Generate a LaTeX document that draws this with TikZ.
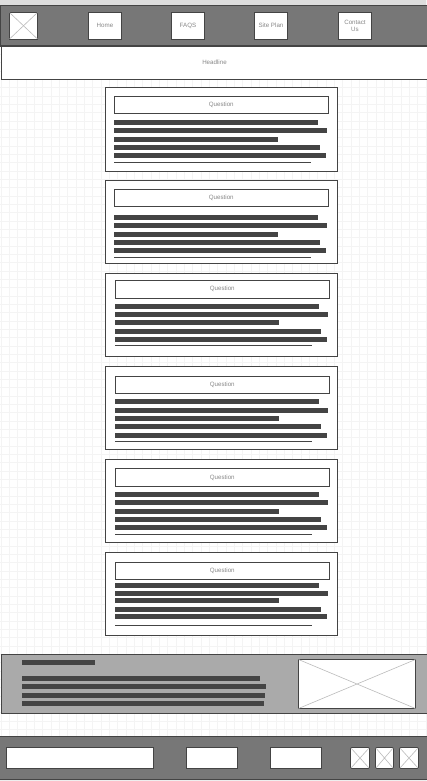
\documentclass[tikz,border=0pt]{standalone}
\usepackage{fontspec}
\setmainfont{Liberation Sans}
\definecolor{hdr}{HTML}{777777}
\definecolor{edge}{HTML}{444444}
\definecolor{barc}{HTML}{444444}
\definecolor{txt}{HTML}{888888}
\definecolor{gridc}{HTML}{F4F4F4}
\definecolor{footc}{HTML}{AAAAAA}
\definecolor{topc}{HTML}{DDDDDD}
\definecolor{botc}{HTML}{EEEEEE}
\definecolor{crossc}{HTML}{BBBBBB}
\tikzset{
  frame/.style={draw=edge, line width=0.8pt, fill=white, inner sep=0pt, outer sep=0pt,
    text=txt, font=\fontsize{6.2}{7}\selectfont, align=center},
  darkband/.style={draw=edge, line width=0.9pt, fill=hdr, inner sep=0pt, outer sep=0pt},
  footband/.style={draw=edge, line width=0.9pt, fill=footc, inner sep=0pt, outer sep=0pt},
  bar/.style={fill=barc},
  cross/.style={draw=crossc, line width=0.6pt},
}
\newcommand\rbox[7]{\node[#2, anchor=north west, minimum width={(#5-#3)*1pt}, minimum height={(#6-#4)*1pt}] (#1) at (#3,#4) {#7};}
\newcommand\xcross[1]{\draw[cross] (#1.north west) -- (#1.south east) (#1.south west) -- (#1.north east);}
\begin{document}
\begin{tikzpicture}[x=1pt,y=-1pt]
\useasboundingbox (0,0) rectangle (426,781);
\fill[white] (0,0) rectangle (426,781);
% grid
\foreach \k in {0,...,51} \draw[gridc, line width=0.5pt] (0.9+\k*8.333,0) -- (0.9+\k*8.333,781);
\foreach \k in {0,...,93} \draw[gridc, line width=0.5pt] (0,4.4+\k*8.333) -- (426,4.4+\k*8.333);
% top strip
\fill[topc] (0,0) rectangle (426,5.5);
% header
\rbox{header}{darkband}{0}{5.5}{428}{46}{}
\draw[edge, line width=1.6pt] (header.south west) -- (header.south east);
\rbox{logo}{frame}{9.5}{12.5}{37.5}{39}{}
\xcross{logo}
\rbox{home}{frame}{88.5}{12.5}{121.5}{39}{Home}
\rbox{faqs}{frame}{171.5}{12.5}{204.5}{39}{FAQS}
\rbox{siteplan}{frame}{254.5}{12.5}{287.5}{39}{Site Plan}
\rbox{contact}{frame}{338.5}{12.5}{371.5}{39}{Contact\\[-0.6pt]Us}
% headline
\rbox{headline}{frame}{1}{46.5}{428}{79}{Headline}
% question cards
\foreach \i/\ya/\yb/\ia/\ib/\lx/\ba/\bb/\bc/\bd/\be/\ln in {
  1/87.7/171.3/96.3/113.3/114/120/128/137/145/153/162,
  2/180.3/263.3/189.3/206.7/114/215/223/232/240/248/257,
  3/273.3/356.3/280.3/298.3/115/304/312/320/329/337/345.7,
  4/366.3/449.3/376.3/393.7/115/399/408/416/424/433/441.3,
  5/459.3/542.3/468.3/486.7/115/492/500/509/517/525/534.3,
  6/552.3/635.7/562/579.3/115/583/591/598/607/614/625}{
  \rbox{card\i}{frame}{105.5}{\ya}{337.5}{\yb}{}
  \rbox{ques\i}{frame}{\lx+0.5}{\ia}{\lx+213}{\ib}{Question}
  \fill[bar] (\lx,\ba) rectangle (\lx+204,\ba+5);
  \fill[bar] (\lx,\bb) rectangle (\lx+213,\bb+5);
  \fill[bar] (\lx,\bc) rectangle (\lx+164,\bc+5);
  \fill[bar] (\lx,\bd) rectangle (\lx+206,\bd+5);
  \fill[bar] (\lx,\be) rectangle (\lx+212,\be+5);
  \draw[barc, line width=1pt] (\lx,\ln) -- (\lx+197,\ln);
}
% footer feature band
\rbox{feature}{footband}{1.5}{654.5}{428}{713}{}
\fill[bar] (22,660) rectangle (95,665);
\fill[bar] (22,676) rectangle (260,681);
\fill[bar] (22,684) rectangle (266,689);
\fill[bar] (22,692.7) rectangle (265,697.7);
\fill[bar] (22,700.7) rectangle (264,705.7);
\rbox{featimg}{frame}{298.5}{659.5}{415.5}{708.5}{}
\xcross{featimg}
% bottom band
\fill[botc] (0,779.5) rectangle (426,781);
\rbox{bottom}{darkband}{-1}{736.5}{428}{779.5}{}
\rbox{input}{frame}{6.5}{747.5}{153.5}{768.5}{}
\rbox{btnA}{frame}{186.5}{747.5}{237.5}{768.5}{}
\rbox{btnB}{frame}{270.5}{747.5}{321.5}{768.5}{}
\rbox{iconA}{frame}{350.5}{747.5}{369.5}{768.5}{}
\rbox{iconB}{frame}{375.5}{747.5}{393.5}{768.5}{}
\rbox{iconC}{frame}{399.5}{747.5}{418.5}{768.5}{}
\xcross{iconA}
\xcross{iconB}
\xcross{iconC}
\end{tikzpicture}
\end{document}
